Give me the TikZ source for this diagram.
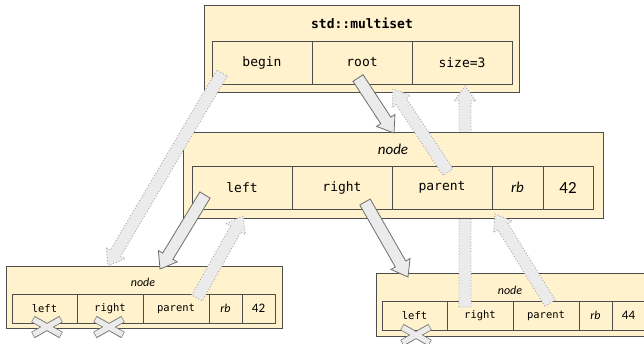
\documentclass[tikz,border=0pt]{standalone}
\usepackage{fontspec}
\setmonofont{DejaVu Sans Mono}
\newfontfamily\carl{Carlito}
\usetikzlibrary{calc}
\definecolor{boxfill}{HTML}{FFF2CC}
\definecolor{boxline}{HTML}{4D4D4D}
\definecolor{arrfill}{HTML}{EBEBEB}
\definecolor{arrsolid}{HTML}{6E6E6E}
\definecolor{arrdot}{HTML}{A6A6A6}
\tikzset{
  frame/.style={draw=boxline, fill=boxfill, line width=0.8pt, inner sep=0pt},
  bigcell/.style={draw=boxline, fill=boxfill, line width=0.8pt, inner sep=0pt, minimum height=43pt, font=\ttfamily\fontsize{13}{15}\selectfont},
  smallcell/.style={draw=boxline, fill=boxfill, line width=0.8pt, inner sep=0pt, minimum height=29pt, font=\ttfamily\fontsize{10.5}{12}\selectfont},
  bigtitle/.style={inner sep=0pt, font=\carl\itshape\fontsize{15}{16}\selectfont},
  smalltitle/.style={inner sep=0pt, font=\carl\itshape\fontsize{12}{13}\selectfont},
  solidarr/.style={draw=arrsolid, fill=arrfill, line width=0.8pt, line join=miter},
  dotarr/.style={draw=arrdot, fill=arrfill, line width=0.9pt, dotted},
}
\def\sw{6pt}\def\hw{11pt}\def\hl{15pt}
\newcommand\blockarr[3]{%
  \coordinate (bac) at ($(#3)!\hl!(#2)$);
  \path[#1] ($(#2)!\sw!90:(#3)$) -- ($(bac)!\sw!90:(#3)$) -- ($(bac)!\hw!90:(#3)$) -- (#3) -- ($(bac)!\hw!-90:(#3)$) -- ($(bac)!\sw!-90:(#3)$) -- ($(#2)!\sw!-90:(#3)$) -- cycle;
}
\newcommand\crossat[1]{%
  \draw[line width=7pt, draw=arrsolid] ($(#1)+(-14,-8)$) -- ($(#1)+(14,8)$) ($(#1)+(-14,8)$) -- ($(#1)+(14,-8)$);
  \draw[line width=5.4pt, draw=arrfill] ($(#1)+(-13.5,-7.6)$) -- ($(#1)+(13.5,7.6)$) ($(#1)+(-13.5,7.6)$) -- ($(#1)+(13.5,-7.6)$);
}
\begin{document}
\begin{tikzpicture}[x=1pt,y=-1pt]
\clip (0,0) rectangle (644,343);
\fill[white] (0,0) rectangle (644,343);
% top struct
\node[frame, minimum width=315pt, minimum height=87pt] (ms) at (361.5,48.5) {};
\node[inner sep=0pt, font=\ttfamily\bfseries\fontsize{13}{15}\selectfont] (mst) at (362,23) {std::multiset};
\node[bigcell, minimum width=100pt] (mbegin) at (262,62.5) {begin};
\node[bigcell, minimum width=100pt] (mroot) at (362,62.5) {root};
\node[bigcell, minimum width=100pt] (msize) at (462,62.5) {size=3};
% left node
\node[frame, minimum width=276pt, minimum height=62pt] (ln) at (144,297) {};
\node[smalltitle] (lnt) at (143,282) {node};
\node[smallcell, minimum width=65pt] (lleft) at (44.5,308.5) {left};
\node[smallcell, minimum width=66pt] (lright) at (110,308.5) {right};
\node[smallcell, minimum width=66pt] (lparent) at (176,308.5) {parent};
\node[smallcell, minimum width=33pt, font=\carl\itshape\fontsize{12}{13}\selectfont] (lrb) at (225.5,308.5) {rb};
\node[smallcell, minimum width=33pt, font=\carl\fontsize{13}{14}\selectfont] (lval) at (258.5,308.5) {42};
% right node
\node[frame, minimum width=276pt, minimum height=63pt] (rn) at (514,304.5) {};
\node[smalltitle] (rnt) at (510,290) {node};
\node[smallcell, minimum width=65pt] (rleft) at (414.5,315.5) {left};
\node[smallcell, minimum width=66pt] (rright) at (480,315.5) {right};
\node[smallcell, minimum width=66pt] (rparent) at (546,315.5) {parent};
\node[smallcell, minimum width=33pt, font=\carl\itshape\fontsize{12}{13}\selectfont] (rrb) at (595.5,315.5) {rb};
\node[smallcell, minimum width=33pt, font=\carl\fontsize{13}{14}\selectfont] (rval) at (628.5,315.5) {44};
% vertical arrow behind middle node
\coordinate (a4s) at (465,307);
\coordinate (a4e) at (465,86);
\blockarr{dotarr}{a4s}{a4e}
% middle node
\node[frame, minimum width=420pt, minimum height=86pt] (mn) at (393,175) {};
\node[bigtitle] (mnt) at (393,149) {node};
\node[bigcell, minimum width=100pt] (nleft) at (242,187.5) {left};
\node[bigcell, minimum width=100pt] (nright) at (342,187.5) {right};
\node[bigcell, minimum width=100pt] (nparent) at (442,187.5) {parent};
\node[bigcell, minimum width=51pt, font=\carl\itshape\fontsize{15}{16}\selectfont] (nrb) at (517.5,187.5) {rb};
\node[bigcell, minimum width=50pt, font=\carl\fontsize{17}{18}\selectfont] (nval) at (568,187.5) {42};
% arrows
\coordinate (a1s) at (222,73);  \coordinate (a1e) at (108,266);
\coordinate (a2s) at (358,78);  \coordinate (a2e) at (394,133);
\coordinate (a3s) at (448,172); \coordinate (a3e) at (393,89);
\coordinate (a5s) at (205,195); \coordinate (a5e) at (160,269);
\coordinate (a6s) at (197,298); \coordinate (a6e) at (243,216);
\coordinate (a7s) at (365,202); \coordinate (a7e) at (408,277);
\coordinate (a8s) at (550,303); \coordinate (a8e) at (495,214);
\blockarr{dotarr}{a1s}{a1e}
\blockarr{solidarr}{a2s}{a2e}
\blockarr{dotarr}{a3s}{a3e}
\blockarr{solidarr}{a5s}{a5e}
\blockarr{dotarr}{a6s}{a6e}
\blockarr{solidarr}{a7s}{a7e}
\blockarr{dotarr}{a8s}{a8e}
% crosses
\coordinate (x1) at (47,327);
\coordinate (x2) at (109,327);
\coordinate (x3) at (416,335);
\crossat{x1}
\crossat{x2}
\crossat{x3}
\end{tikzpicture}
\end{document}
